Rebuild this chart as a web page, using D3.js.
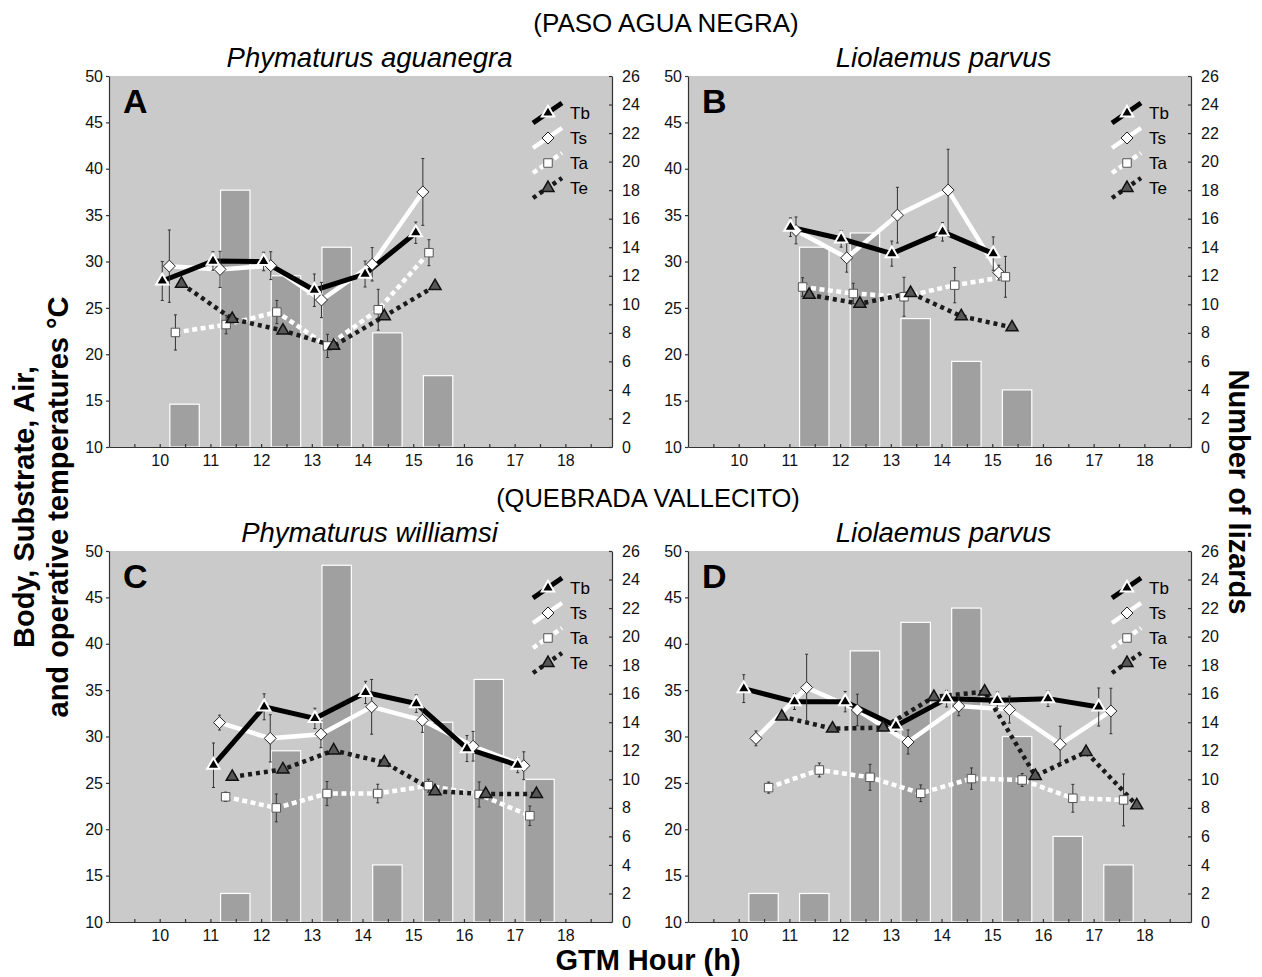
<!DOCTYPE html>
<html>
<head>
<meta charset="utf-8">
<script src="https://cdn.jsdelivr.net/npm/d3@7"></script>
<style>
  body { margin: 0; background: #fff; }
  text { font-family: Arial, "Liberation Sans", sans-serif; }
</style>
</head>
<body>
<script>
// ---- data ----
const seriesNames = ["Tb", "Ts", "Ta", "Te"];
const tempTicks = [10, 15, 20, 25, 30, 35, 40, 45, 50];
const countTicks = [0, 2, 4, 6, 8, 10, 12, 14, 16, 18, 20, 22, 24, 26];
const hourTicks = [10, 11, 12, 13, 14, 15, 16, 17, 18];

// A: Phymaturus aguanegra (Paso Agua Negra)
const hoursA = [10, 11, 12, 13, 14, 15];
const countA = [3, 18, 12, 14, 8, 5];
const tbA = [27.9, 30.05, 30.0, 26.9, 28.65, 33.1];
const tbErrA = [2.1, 1.0, 1.0, 1.75, 1.4, 1.15];
const tsA = [29.5, 29.15, 29.55, 25.85, 29.7, 37.5];
const tsErrA = [3.9, 1.95, 1.5, 1.9, 1.8, 3.6];
const taA = [22.35, 23.2, 24.55, 20.9, 24.8, 30.95];
const taErrA = [1.9, 1.0, 1.25, 1.25, 2.2, 1.4];
const teA = [27.6, 23.8, 22.55, 20.9, 24.1, 27.35];

// B: Liolaemus parvus (Paso Agua Negra)
const hoursB = [11, 12, 13, 14, 15];
const countB = [14, 15, 9, 6, 4];
const tbB = [33.7, 32.45, 30.85, 33.2, 30.85];
const tbErrB = [1.0, 0.9, 1.35, 1.0, 1.8];
const tsB = [33.35, 30.4, 35.0, 37.7, 28.8];
const tsErrB = [1.45, 1.55, 3.0, 4.4, 0.8];
const taB = [27.25, 26.55, 26.2, 27.45, 28.35];
const taErrB = [1.0, 1.1, 2.1, 1.9, 2.2];
const teB = [26.4, 25.45, 26.6, 24.1, 22.9];

// C: Phymaturus williamsi (Quebrada Vallecito)
const hoursC = [11, 12, 13, 14, 15, 16, 17];
const countC = [2, 12, 25, 4, 14, 17, 10];
const tbC = [26.9, 33.2, 31.95, 34.75, 33.55, 28.7, 26.9];
const tbErrC = [2.4, 1.4, 1.1, 1.2, 0.95, 1.4, 0.8];
const tsC = [31.5, 29.8, 30.25, 33.2, 31.75, 28.95, 26.85];
const tsErrC = [0.8, 2.55, 1.45, 2.95, 1.3, 1.6, 1.5];
const taC = [23.5, 22.3, 23.85, 23.85, 24.7, 23.75, 21.45];
const taErrC = [0.5, 1.5, 1.3, 1.0, 0.7, 1.35, 1.05];
const teC = [25.65, 26.45, 28.5, 27.2, 24.1, 23.8, 23.8];

// D: Liolaemus parvus (Quebrada Vallecito)
const hoursD = [10, 11, 12, 13, 14, 15, 16, 17];
const countD = [2, 2, 19, 21, 22, 13, 6, 4];
const tbD = [35.16, 33.76, 33.76, 31.14, 34.08, 33.9, 34.08, 33.18];
const tbErrD = [1.5, 0.85, 1.1, 0.6, 0.9, 0.9, 0.85, 2.05];
const tsD = [29.8, 35.27, 32.86, 29.41, 33.29, 32.9, 29.16, 32.75];
const tsErrD = [0.8, 3.6, 1.7, 1.3, 1.05, 1.45, 1.95, 2.45];
const taD = [24.49, 26.39, 25.6, 23.88, 25.46, 25.31, 23.34, 23.16];
const taErrD = [0.6, 0.75, 1.4, 0.9, 1.15, 0.7, 1.5, 2.8];
const teD = [32.14, 30.85, 30.96, 34.26, 34.84, 25.75, 28.33, 22.58];

// ---- layout ----
const width = 1262, height = 977;
const plotW = 503, plotH = 371;

const panels = [
  { letter: "A", title: "Phymaturus aguanegra", left: 109, top: 76, titleDx: 9, hours: hoursA, counts: countA,
    vals: [tbA, tsA, taA, teA], errs: [tbErrA, tsErrA, taErrA, null], shift: [0.05, 0.19, 0.31, 0.43] },
  { letter: "B", title: "Liolaemus parvus", left: 688, top: 76, titleDx: 4, hours: hoursB, counts: countB,
    vals: [tbB, tsB, taB, teB], errs: [tbErrB, tsErrB, taErrB, null], shift: [0.02, 0.13, 0.26, 0.39] },
  { letter: "C", title: "Phymaturus williamsi", left: 109, top: 551, titleDx: 9, hours: hoursC, counts: countC,
    vals: [tbC, tsC, taC, teC], errs: [tbErrC, tsErrC, taErrC, null], shift: [0.06, 0.18, 0.3, 0.43] },
  { letter: "D", title: "Liolaemus parvus", left: 688, top: 551, titleDx: 4, hours: hoursD, counts: countD,
    vals: [tbD, tsD, taD, teD], errs: [tbErrD, tsErrD, taErrD, null], shift: [0.1, 0.34, 0.59, 0.85] }
];

// line + marker styles per series
const styles = {
  Tb: { stroke: "#000", width: 5, dash: null, marker: "tri", fill: "#000", mstroke: "#fff", msw: 2, size: 12.5 },
  Ts: { stroke: "#fff", width: 4.5, dash: null, marker: "dia", fill: "#fff", mstroke: "#222", msw: 1, size: 6 },
  Ta: { stroke: "#fff", width: 4.5, dash: "5,3.5", marker: "sq", fill: "#fff", mstroke: "#555", msw: 1, size: 8.5 },
  Te: { stroke: "#1a1a1a", width: 4.5, dash: "4,4", marker: "tri", fill: "#575757", mstroke: "#111", msw: 1.5, size: 12 }
};

function markerPath(type, s) {
  if (type === "tri") {
    const hh = s * 0.866;
    return `M0,${-2 * hh / 3}L${s / 2},${hh / 3}L${-s / 2},${hh / 3}Z`;
  }
  if (type === "dia") return `M0,${-s}L${s},0L0,${s}L${-s},0Z`;
  const q = s / 2;
  return `M${-q},${-q}H${q}V${q}H${-q}Z`;
}

const svg = d3.select("body").append("svg")
  .attr("width", width)
  .attr("height", height);

svg.append("rect").attr("width", width).attr("height", height).attr("fill", "#fff");

panels.forEach(drawPanel);

function drawPanel(p) {
  const x = d3.scaleLinear([9, 18.92], [p.left, p.left + plotW]);
  const yT = d3.scaleLinear([10, 50], [p.top + plotH, p.top]);
  const yN = d3.scaleLinear([0, 26], [p.top + plotH, p.top]);
  const g = svg.append("g");

  g.append("rect")
    .attr("x", p.left).attr("y", p.top)
    .attr("width", plotW).attr("height", plotH)
    .attr("fill", "#cacaca");

  // bars (number of lizards, right axis)
  const bars = p.hours.map((hr, i) => ({ hr, n: p.counts[i] }));
  g.append("g").selectAll("rect").data(bars).join("rect")
    .attr("x", d => x(d.hr + 0.2))
    .attr("width", d => x(d.hr + 0.78) - x(d.hr + 0.2))
    .attr("y", d => yN(d.n))
    .attr("height", d => yN(0) - yN(d.n))
    .attr("fill", "#a0a0a0")
    .attr("stroke", "#fff")
    .attr("stroke-width", 1.2);

  // build points for each series
  const series = seriesNames.map((name, k) => ({
    name,
    pts: p.hours.map((hr, i) => ({
      x: x(hr + p.shift[k]),
      y: yT(p.vals[k][i]),
      lo: p.errs[k] ? yT(p.vals[k][i] - p.errs[k][i]) : null,
      hi: p.errs[k] ? yT(p.vals[k][i] + p.errs[k][i]) : null
    }))
  }));

  const line = d3.line().x(d => d.x).y(d => d.y);
  const drawOrder = ["Ts", "Tb", "Ta", "Te"];

  drawOrder.forEach(name => {
    const s = series.find(d => d.name === name), st = styles[name];
    g.append("path")
      .attr("d", line(s.pts))
      .attr("fill", "none")
      .attr("stroke", st.stroke)
      .attr("stroke-width", st.width)
      .attr("stroke-dasharray", st.dash);
  });

  // error bars
  series.filter(s => s.pts[0].lo !== null).forEach(s => {
    const eg = g.append("g").attr("stroke", "#333").attr("stroke-width", 1);
    eg.selectAll("line.v").data(s.pts).join("line")
      .attr("x1", d => d.x).attr("x2", d => d.x)
      .attr("y1", d => d.lo).attr("y2", d => d.hi);
    eg.selectAll("line.c1").data(s.pts).join("line")
      .attr("x1", d => d.x - 1.5).attr("x2", d => d.x + 1.5)
      .attr("y1", d => d.hi).attr("y2", d => d.hi);
    eg.selectAll("line.c2").data(s.pts).join("line")
      .attr("x1", d => d.x - 1.5).attr("x2", d => d.x + 1.5)
      .attr("y1", d => d.lo).attr("y2", d => d.lo);
  });

  // markers
  drawOrder.forEach(name => {
    const s = series.find(d => d.name === name), st = styles[name];
    g.append("g").selectAll("path").data(s.pts).join("path")
      .attr("transform", d => `translate(${d.x},${d.y})`)
      .attr("d", markerPath(st.marker, st.size))
      .attr("fill", st.fill)
      .attr("stroke", st.mstroke)
      .attr("stroke-width", st.msw)
      .attr("stroke-linejoin", "miter");
  });

  // axes
  const axisLeft = g.append("g")
    .attr("transform", `translate(${p.left},0)`)
    .call(d3.axisLeft(yT).tickValues(tempTicks).tickSize(3).tickSizeOuter(0).tickPadding(3));
  const axisRight = g.append("g")
    .attr("transform", `translate(${p.left + plotW},0)`)
    .call(d3.axisRight(yN).tickValues(countTicks).tickSize(-3).tickSizeOuter(0).tickPadding(10));
  const axisBottom = g.append("g")
    .attr("transform", `translate(0,${p.top + plotH})`)
    .call(d3.axisBottom(x).tickValues(d3.range(9.5, 18.6, 0.5)).tickSize(-3).tickSizeOuter(0).tickPadding(8)
      .tickFormat(d => hourTicks.includes(d) ? d : ""));

  [axisLeft, axisRight, axisBottom].forEach(a => {
    a.selectAll("path, line").attr("stroke", "#333").attr("stroke-width", 1.2);
    a.selectAll("text").attr("font-size", 16).attr("fill", "#111")
      .attr("font-family", "Arial, 'Liberation Sans', sans-serif");
  });

  // legend
  const tx = p.left + plotW - 42;
  seriesNames.forEach((name, k) => {
    const st = styles[name];
    const cy = p.top + 37 + k * 25;
    g.append("line")
      .attr("x1", tx - 37).attr("y1", cy + 10)
      .attr("x2", tx - 8).attr("y2", cy - 10)
      .attr("stroke", st.stroke)
      .attr("stroke-width", st.width)
      .attr("stroke-dasharray", st.dash);
    g.append("path")
      .attr("transform", `translate(${tx - 22},${cy})`)
      .attr("d", markerPath(st.marker, st.size))
      .attr("fill", st.fill)
      .attr("stroke", st.mstroke)
      .attr("stroke-width", st.msw);
    g.append("text")
      .attr("x", tx).attr("y", cy + 6)
      .attr("font-size", 17)
      .text(name);
  });

  // panel letter and species title
  g.append("text")
    .attr("x", p.left + 14).attr("y", p.top + 37)
    .attr("font-size", 34).attr("font-weight", "bold")
    .text(p.letter);
  g.append("text")
    .attr("x", p.left + plotW / 2 + p.titleDx).attr("y", p.top - 9)
    .attr("text-anchor", "middle")
    .attr("font-size", 27.5).attr("font-style", "italic")
    .text(p.title);
}

// site headings
svg.append("text")
  .attr("x", 666).attr("y", 32)
  .attr("text-anchor", "middle").attr("font-size", 26)
  .text("(PASO AGUA NEGRA)");
svg.append("text")
  .attr("x", 648).attr("y", 507)
  .attr("text-anchor", "middle").attr("font-size", 25.5)
  .text("(QUEBRADA VALLECITO)");

// axis titles
svg.append("text")
  .attr("transform", "translate(34,507) rotate(-90)")
  .attr("text-anchor", "middle").attr("font-size", 29).attr("font-weight", "bold")
  .text("Body, Substrate, Air,");
svg.append("text")
  .attr("transform", "translate(68,507) rotate(-90)")
  .attr("text-anchor", "middle").attr("font-size", 29).attr("font-weight", "bold")
  .text("and operative temperatures °C");
svg.append("text")
  .attr("transform", "translate(1229,492) rotate(90)")
  .attr("text-anchor", "middle").attr("font-size", 29).attr("font-weight", "bold")
  .text("Number of lizards");
svg.append("text")
  .attr("x", 648).attr("y", 970)
  .attr("text-anchor", "middle").attr("font-size", 29).attr("font-weight", "bold")
  .text("GTM Hour (h)");
</script>
</body>
</html>
